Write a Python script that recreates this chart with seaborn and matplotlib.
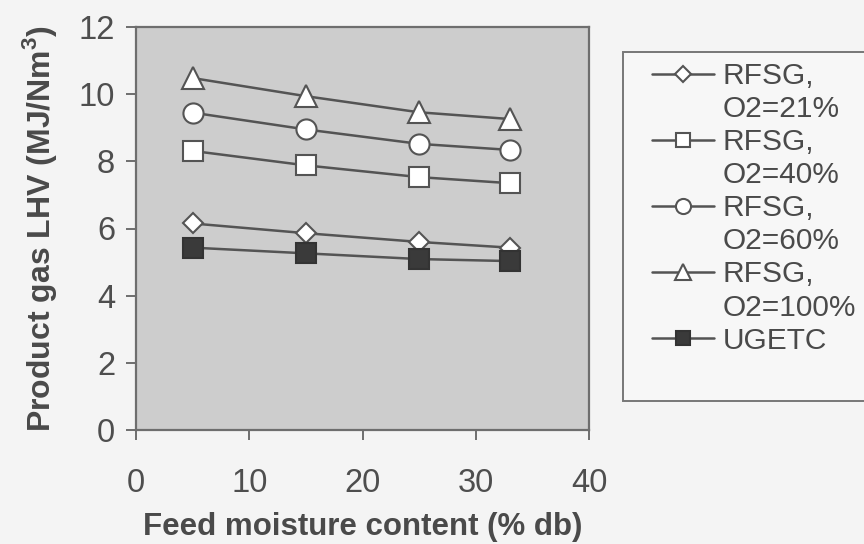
import matplotlib
matplotlib.use("Agg")
import matplotlib.pyplot as plt
from matplotlib.lines import Line2D
from matplotlib.patches import Rectangle
import seaborn as sns
import pandas as pd

# ---- data ----
moisture = [5, 15, 25, 33]
rfsg_21 = [6.15, 5.86, 5.60, 5.43]
rfsg_40 = [8.31, 7.88, 7.53, 7.35]
rfsg_60 = [9.45, 8.95, 8.52, 8.34]
rfsg_100 = [10.48, 9.94, 9.46, 9.26]
ugetc = [5.43, 5.26, 5.09, 5.03]
series_names = ["RFSG,", "RFSG,", "RFSG,", "RFSG,", "UGETC"]
series_sub = ["O2=21%", "O2=40%", "O2=60%", "O2=100%", None]
x_ticks = [0, 10, 20, 30, 40]
y_ticks = [0, 2, 4, 6, 8, 10, 12]

sns.set_theme(style="white")
plt.rcParams["font.family"] = ["Liberation Sans", "DejaVu Sans"]
plt.rcParams["mathtext.fontset"] = "custom"
plt.rcParams["mathtext.rm"] = "Liberation Sans"
plt.rcParams["mathtext.bf"] = "Liberation Sans:bold"

FIG_BG = "#f4f4f4"
AX_BG = "#cdcdcd"
LINE = "#545454"
TXT = "#4a4a4a"
SPINE = "#6e6e6e"

fig = plt.figure(figsize=(8.64, 5.44), dpi=100, facecolor=FIG_BG)
ax = fig.add_axes([136 / 864, 1 - 430 / 544, (589 - 136) / 864, (430 - 27) / 544])
ax.set_facecolor(AX_BG)

styles = [
    (rfsg_21, "D", 10.5, "white"),
    (rfsg_40, "s", 14.0, "white"),
    (rfsg_60, "o", 14.5, "white"),
    (rfsg_100, "^", 15.5, "white"),
    (ugetc, "s", 14.0, "#3a3a3a"),
]
for (vals, mk, ms, fc), lab in zip(styles, series_names):
    df = pd.DataFrame({"moisture": moisture, "lhv": vals})
    sns.lineplot(data=df, x="moisture", y="lhv", ax=ax, color=LINE, linewidth=1.8,
                 marker=mk, markersize=ms, markerfacecolor=fc,
                 markeredgecolor=LINE if fc == "white" else "#333333",
                 markeredgewidth=1.5, label=lab)

ax.set_xlim(0, 40)
ax.set_ylim(0, 12)
ax.set_xticks(x_ticks)
ax.set_yticks(y_ticks)
for s in ax.spines.values():
    s.set_color(SPINE)
    s.set_linewidth(1.6)
ax.tick_params(axis="both", direction="out", length=7, width=1.4, color=SPINE,
               labelsize=23.5, labelcolor="#4e4e4e")
ax.tick_params(axis="x", pad=20, bottom=True)
ax.tick_params(axis="y", pad=8, left=True)

ax.set_xlabel("Feed moisture content (% db)", fontsize=22.5, fontweight="bold", color=TXT, labelpad=10)
ax.set_ylabel(r"Product gas LHV (MJ/Nm$^{\mathbf{3}}$)", fontsize=23, fontweight="bold",
              color=TXT, labelpad=14)

# legend: first line of each entry carries the handle, second line has none
handles, _ = ax.get_legend_handles_labels()
ax.get_legend().remove()
blank = Line2D([], [], linestyle="none", marker=None)
leg_handles, leg_labels = [], []
for h, name, sub in zip(handles, series_names, series_sub):
    leg_handles.append(h)
    leg_labels.append(name)
    if sub is not None:
        leg_handles.append(blank)
        leg_labels.append(sub)

fig.patches.append(Rectangle((623 / 864, 1 - 401 / 544), (872 - 623) / 864, (401 - 52) / 544,
                             transform=fig.transFigure, facecolor="#f7f7f7",
                             edgecolor="#777777", linewidth=1.4, zorder=0))
leg = fig.legend(leg_handles, leg_labels, loc="upper left",
                 bbox_to_anchor=(652 / 864, 1 - 62 / 544), bbox_transform=fig.transFigure,
                 fontsize=21.5, frameon=False, handlelength=2.07, handletextpad=0.3,
                 labelspacing=0.17, borderpad=0, borderaxespad=0, markerscale=0.75)
for t in leg.get_texts():
    t.set_color("#4a4a4a")

fig.savefig("out.png", dpi=100, facecolor=FIG_BG)
